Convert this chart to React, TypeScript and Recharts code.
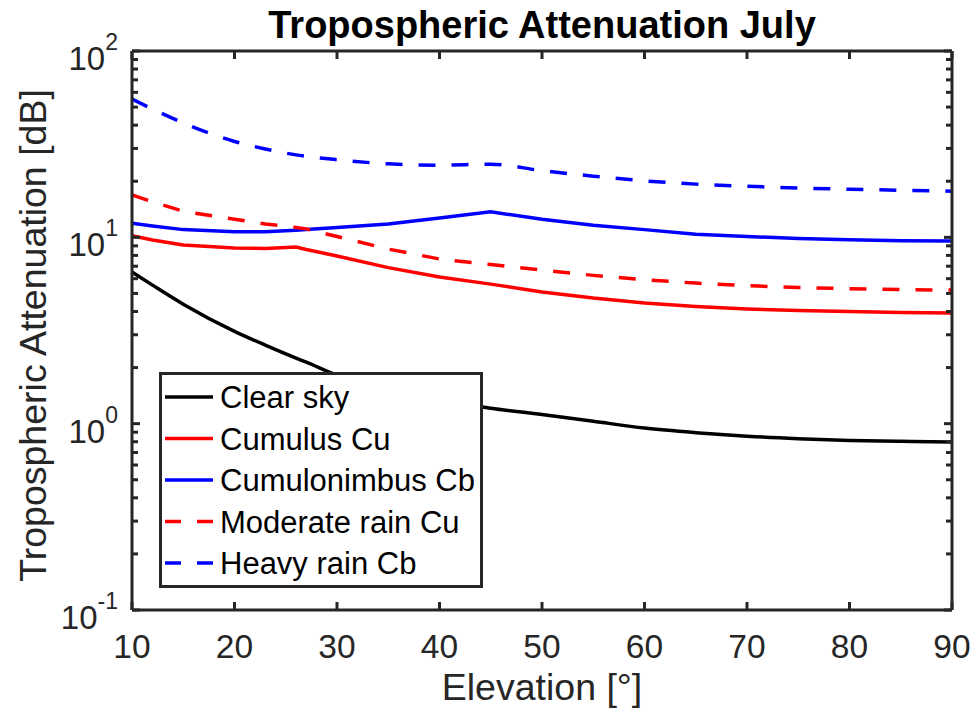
import { Legend, Line, LineChart, XAxis, YAxis } from "recharts";

const elevation = [10, 12, 15, 20, 23, 26, 27, 30, 35, 40, 45, 50, 55, 60, 65, 70, 75, 80, 85, 90];
const clearSky = [6.51, 5.54, 4.38, 3.13, 2.64, 2.25, 2.14, 1.82, 1.53, 1.34, 1.21, 1.12, 1.03, 0.947, 0.895, 0.857, 0.831, 0.813, 0.804, 0.797];
const cumulus = [10.2, 9.67, 9.1, 8.77, 8.72, 8.87, 8.6, 7.94, 6.88, 6.12, 5.61, 5.09, 4.72, 4.44, 4.25, 4.12, 4.05, 4.0, 3.95, 3.92];
const cumulonimbus = [11.9, 11.5, 11.0, 10.7, 10.7, 10.9, 11.0, 11.3, 11.8, 12.7, 13.7, 12.5, 11.6, 11.0, 10.4, 10.1, 9.85, 9.7, 9.6, 9.55];
const moderateRain = [16.9, 15.5, 13.8, 12.5, 11.8, 11.3, 11.1, 10.1, 8.65, 7.65, 7.14, 6.67, 6.25, 5.92, 5.68, 5.5, 5.38, 5.3, 5.24, 5.21];
const heavyRain = [55.2, 48.8, 41.1, 32.7, 29.8, 27.7, 27.2, 26.1, 24.8, 24.4, 24.7, 22.8, 21.3, 20.1, 19.3, 18.8, 18.4, 18.1, 17.9, 17.7];

const xTicks = [10, 20, 30, 40, 50, 60, 70, 80, 90];
const yTicks = [0.1, 1, 10, 100];
const yTickExponents = ["-1", "0", "1", "2"];
const yMinorTicks = [
  0.2, 0.3, 0.4, 0.5, 0.6, 0.7, 0.8, 0.9,
  2, 3, 4, 5, 6, 7, 8, 9,
  20, 30, 40, 50, 60, 70, 80, 90,
];

const series = [
  { key: "clearSky", name: "Clear sky", color: "#000000", dash: undefined, curve: "monotone" },
  { key: "cumulus", name: "Cumulus Cu", color: "#ff0000", dash: undefined, curve: "linear" },
  { key: "cumulonimbus", name: "Cumulonimbus Cb", color: "#0000ff", dash: undefined, curve: "linear" },
  { key: "moderateRain", name: "Moderate rain Cu", color: "#ff0000", dash: "17 16", curve: "linear" },
  { key: "heavyRain", name: "Heavy rain Cb", color: "#0000ff", dash: "17 16", curve: "monotone" },
];

const data = elevation.map((e, i) => ({
  elevation: e,
  clearSky: clearSky[i],
  cumulus: cumulus[i],
  cumulonimbus: cumulonimbus[i],
  moderateRain: moderateRain[i],
  heavyRain: heavyRain[i],
}));

const AXIS = "#262626";
const FONT = "'Liberation Sans', Arial, Helvetica, sans-serif";

// empty tick label, so only the inward tick marks are drawn
const NoLabel = () => <g />;

function YTick(props: any) {
  const { x, y, payload } = props;
  const idx = yTicks.indexOf(payload.value);
  return (
    <text x={x} y={y + 19} textAnchor="end" fill={AXIS} fontFamily={FONT} fontSize={33}>
      <tspan>10</tspan>
      <tspan dy={-20} fontSize={23}>{yTickExponents[idx]}</tspan>
    </text>
  );
}

function LegendBox(props: any) {
  const items = props.payload || [];
  return (
    <svg width={324} height={216} style={{ display: "block" }}>
      <rect x={1.5} y={1.5} width={321} height={213} fill="#ffffff" stroke={AXIS} strokeWidth={3} />
      {series.map((s, i) => {
        const item = items.find((p: any) => p.value === s.name);
        const cy = 25 + i * 41.5;
        return (
          <g key={s.key}>
            <line x1={6} x2={54} y1={cy} y2={cy} stroke={item ? item.color : s.color} strokeWidth={3.5} strokeDasharray={s.dash ? "16 16" : undefined} />
            <text x={61} y={cy + 11} fontFamily={FONT} fontSize={31} fill="#000000">
              {s.name}
            </text>
          </g>
        );
      })}
    </svg>
  );
}

function TitleLabel(props: any) {
  const vb = props.viewBox || { x: 132, width: 820 };
  return (
    <text x={vb.x + vb.width / 2} y={38} textAnchor="middle" fontFamily={FONT} fontSize={38} fontWeight="bold" fill="#000000">
      Tropospheric Attenuation July
    </text>
  );
}

function XLabel(props: any) {
  const vb = props.viewBox || { x: 132, width: 820 };
  return (
    <text x={vb.x + vb.width / 2} y={700} textAnchor="middle" fontFamily={FONT} fontSize={37.5} fill={AXIS}>
      Elevation [°]
    </text>
  );
}

function YLabel(props: any) {
  const vb = props.viewBox || { y: 51, height: 559 };
  const cy = vb.y + vb.height / 2 + 5;
  return (
    <text x={46} y={cy} transform={`rotate(-90 46 ${cy})`} textAnchor="middle" fontFamily={FONT} fontSize={37.5} fill={AXIS}>
      Tropospheric Attenuation [dB]
    </text>
  );
}

export default function App() {
  return (
    <div style={{ position: "absolute", left: 0, top: 0, background: "#ffffff" }}>
      <LineChart width={976} height={715} data={data} margin={{ top: 51, right: 24, left: 0, bottom: 0 }}>
        <XAxis
          xAxisId="x"
          dataKey="elevation"
          type="number"
          domain={[10, 90]}
          ticks={xTicks}
          interval={0}
          allowDataOverflow
          height={105}
          tickLine={false}
          tickSize={6}
          tickMargin={18}
          axisLine={{ stroke: AXIS, strokeWidth: 3 }}
          tick={{ fill: AXIS, fontSize: 33.5, fontFamily: FONT }}
          label={{ content: XLabel }}
        />
        <XAxis
          xAxisId="xb"
          dataKey="elevation"
          type="number"
          domain={[10, 90]}
          ticks={xTicks}
          interval={0}
          allowDataOverflow
          orientation="bottom"
          mirror
          height={1}
          axisLine={false}
          tick={<NoLabel />}
          tickSize={8}
          tickLine={{ stroke: AXIS, strokeWidth: 3 }}
        />
        <XAxis
          xAxisId="xt"
          dataKey="elevation"
          type="number"
          domain={[10, 90]}
          ticks={xTicks}
          interval={0}
          allowDataOverflow
          orientation="top"
          mirror
          height={1}
          axisLine={{ stroke: AXIS, strokeWidth: 3 }}
          tick={<NoLabel />}
          tickSize={8}
          tickLine={{ stroke: AXIS, strokeWidth: 3 }}
          label={{ content: TitleLabel }}
        />
        <YAxis
          yAxisId="y"
          type="number"
          scale="log"
          domain={[0.1, 100]}
          ticks={yTicks}
          interval={0}
          allowDataOverflow
          width={132}
          tickLine={false}
          tickSize={0}
          tickMargin={14}
          axisLine={{ stroke: AXIS, strokeWidth: 3 }}
          tick={<YTick />}
          label={{ content: YLabel }}
        />
        <YAxis
          yAxisId="ylMajor"
          type="number"
          scale="log"
          domain={[0.1, 100]}
          ticks={yTicks}
          interval={0}
          allowDataOverflow
          mirror
          width={1}
          axisLine={false}
          tick={<NoLabel />}
          tickSize={8}
          tickLine={{ stroke: AXIS, strokeWidth: 3 }}
        />
        <YAxis
          yAxisId="ylMinor"
          type="number"
          scale="log"
          domain={[0.1, 100]}
          ticks={yMinorTicks}
          interval={0}
          allowDataOverflow
          mirror
          width={1}
          axisLine={false}
          tick={<NoLabel />}
          tickSize={5}
          tickLine={{ stroke: AXIS, strokeWidth: 3 }}
        />
        <YAxis
          yAxisId="yrMajor"
          orientation="right"
          type="number"
          scale="log"
          domain={[0.1, 100]}
          ticks={yTicks}
          interval={0}
          allowDataOverflow
          mirror
          width={1}
          axisLine={{ stroke: AXIS, strokeWidth: 3 }}
          tick={<NoLabel />}
          tickSize={8}
          tickLine={{ stroke: AXIS, strokeWidth: 3 }}
        />
        <YAxis
          yAxisId="yrMinor"
          orientation="right"
          type="number"
          scale="log"
          domain={[0.1, 100]}
          ticks={yMinorTicks}
          interval={0}
          allowDataOverflow
          mirror
          width={1}
          axisLine={false}
          tick={<NoLabel />}
          tickSize={5}
          tickLine={{ stroke: AXIS, strokeWidth: 3 }}
        />
        {series.map((s) => (
          <Line
            key={s.key}
            xAxisId="x"
            yAxisId="y"
            type={s.curve as any}
            dataKey={s.key}
            name={s.name}
            stroke={s.color}
            strokeWidth={3.5}
            strokeDasharray={s.dash}
            dot={false}
            activeDot={false}
            legendType="plainline"
            isAnimationActive={false}
          />
        ))}
        <Legend
          layout="vertical"
          align="center"
          verticalAlign="middle"
          wrapperStyle={{ left: 159, top: 372, width: 324, height: 216 }}
          content={<LegendBox />}
        />
      </LineChart>
    </div>
  );
}
